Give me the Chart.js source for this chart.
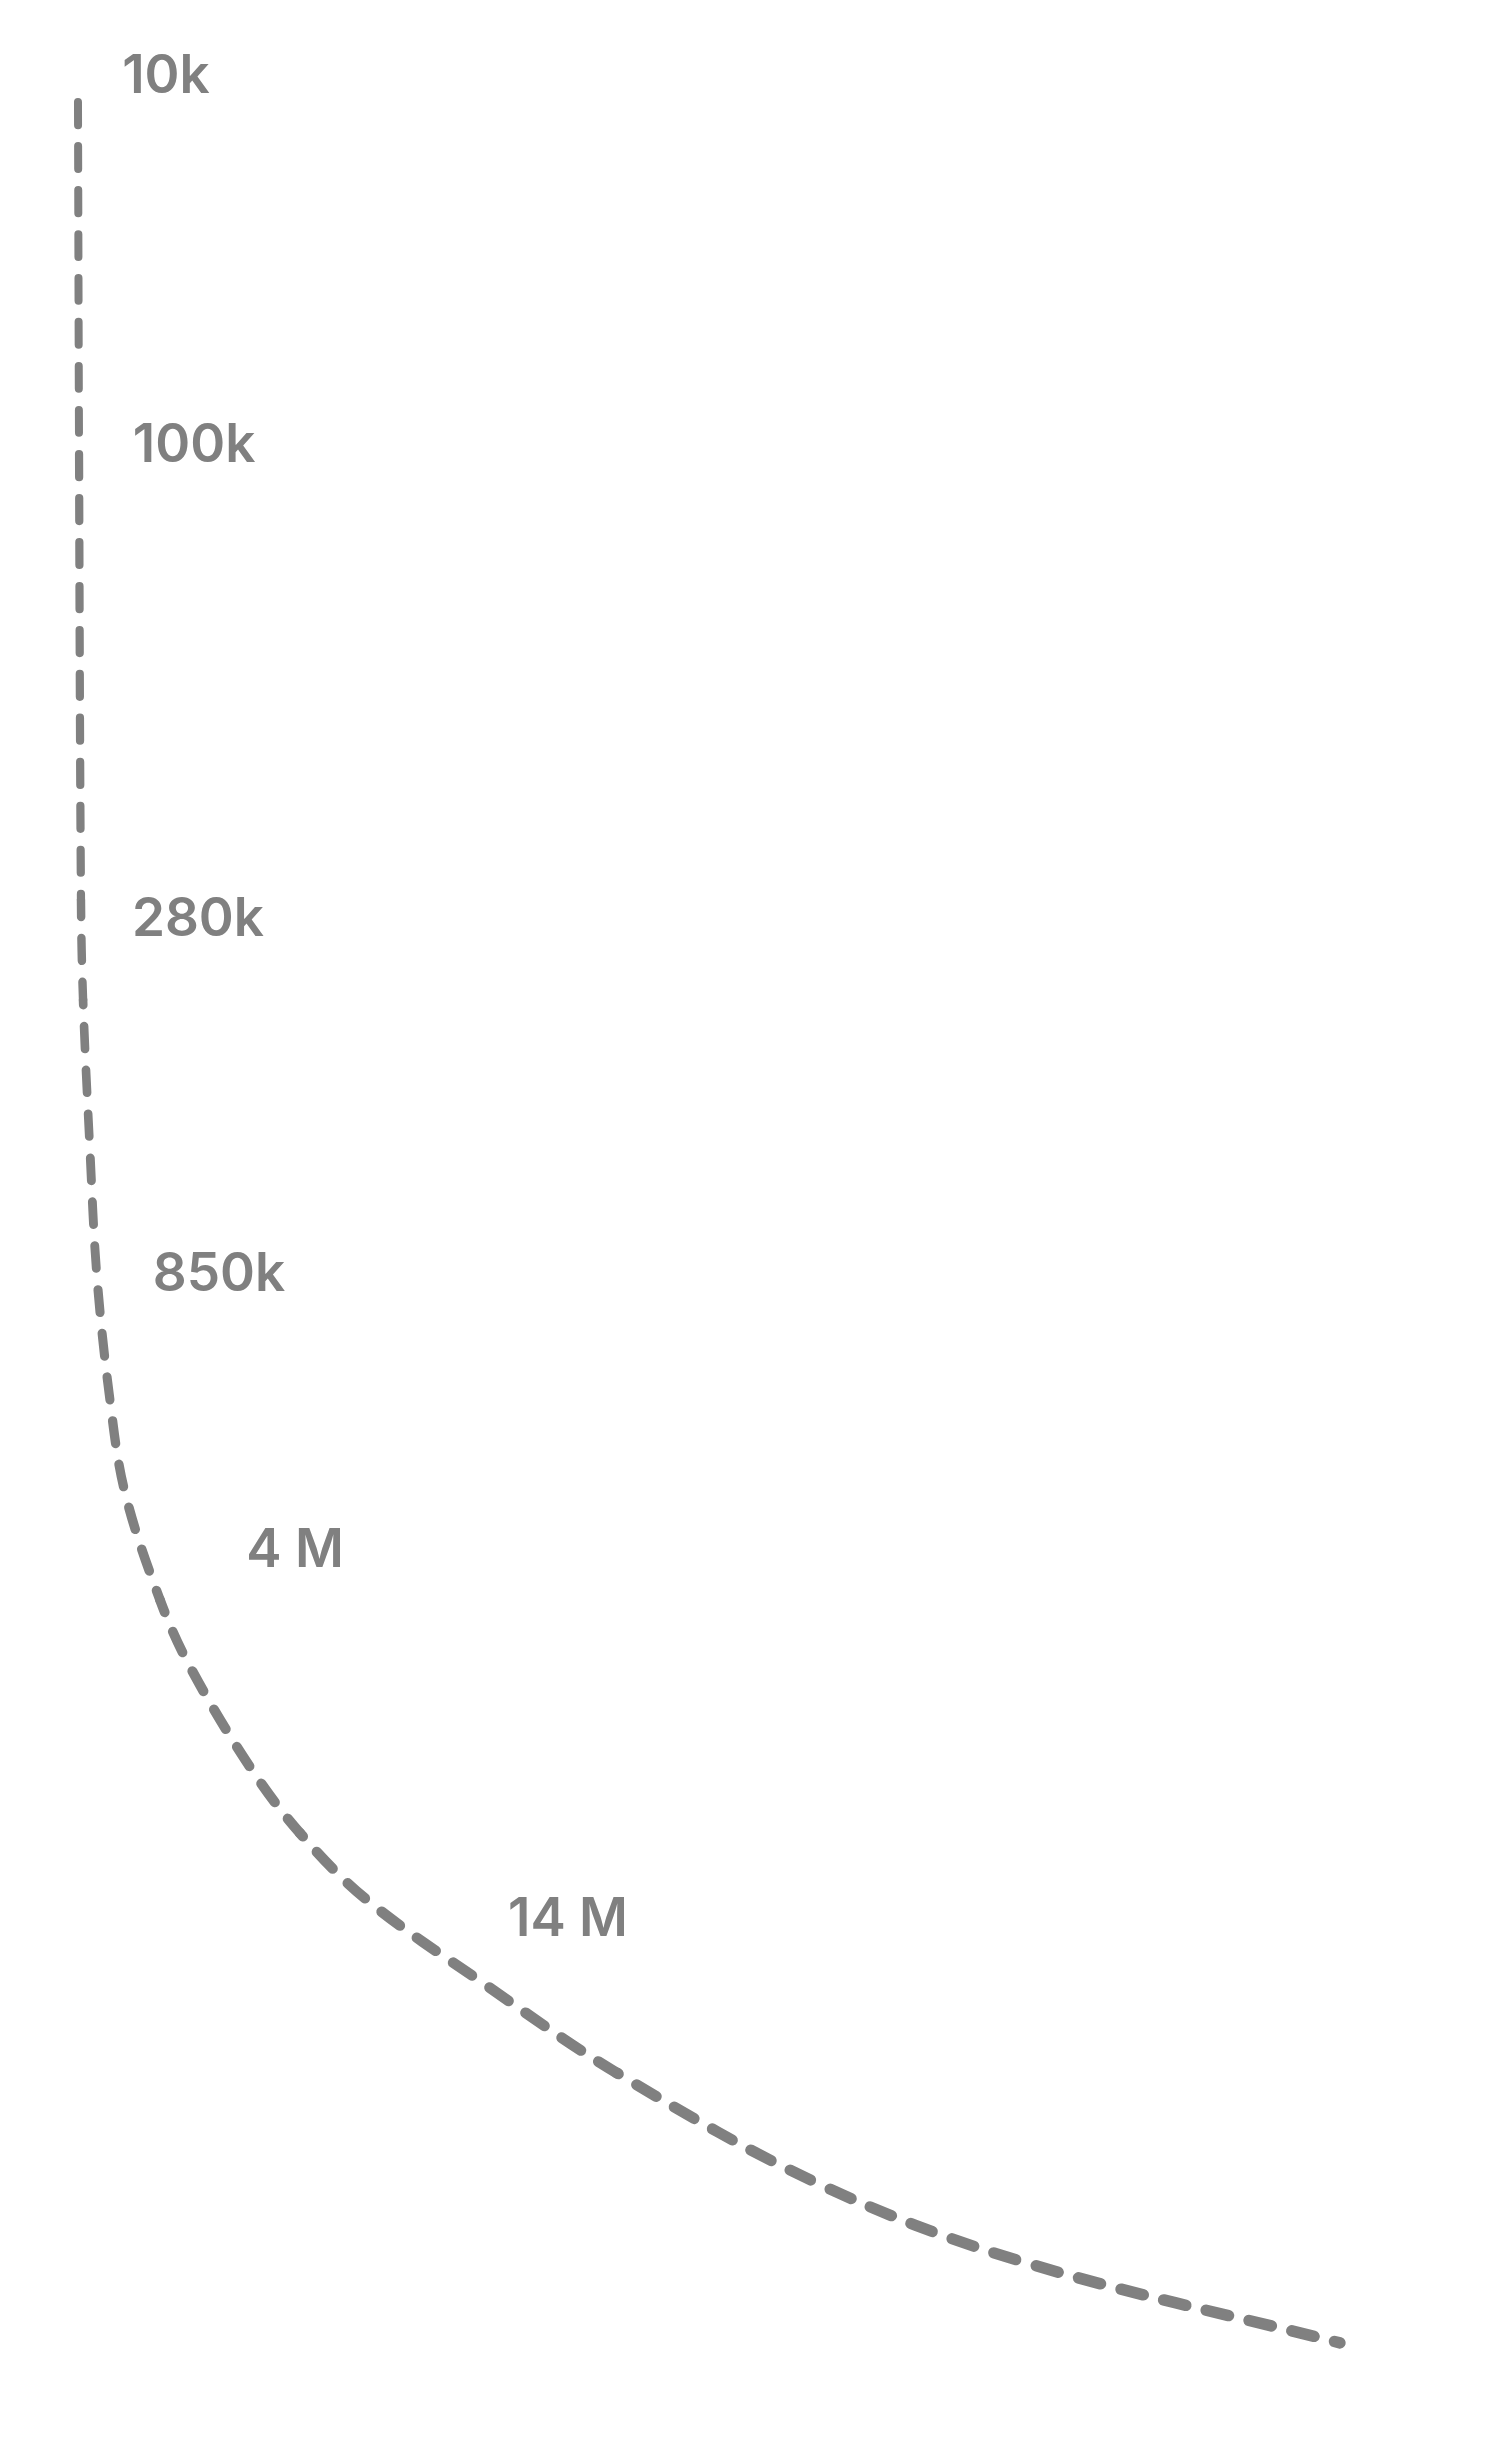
<!DOCTYPE html>
<html>
<head>
<meta charset="utf-8">
<script src="https://cdn.jsdelivr.net/npm/chart.js@4/dist/chart.umd.min.js"></script>
<style>
  html, body { margin: 0; padding: 0; background: #fff; }
  #wrap { width: 1494px; height: 2451px; }
</style>
</head>
<body>
<div id="wrap"><canvas id="curve" width="1494" height="2451"></canvas></div>
<script>
// curve, in % of width (x) and % of height from the top (y)
const curveX = [5.22, 5.29, 5.42, 5.56, 6.02, 6.49, 7.36, 8.37, 10.71, 12.72, 16.73, 20.08, 24.56, 32.33, 41.30, 54.69, 68.07, 89.69];
const curveY = [4.16, 18.36, 36.72, 40.80, 46.92, 52.10, 57.12, 60.91, 65.28, 68.01, 72.09, 74.79, 77.52, 80.91, 84.58, 89.07, 92.21, 95.59];

// value labels along the curve
const labelText = ['10k', '100k', '280k', '850k', '4 M', '14 M'];
const labelX = [11.11, 12.99, 13.25, 14.66, 19.75, 38.02];
const labelY = [3.02, 18.07, 37.41, 51.90, 63.16, 78.21];

const grey = '#808080';
const fontSize = 53;

// the stroke gets a little heavier towards the end of the curve
function segWidth(ctx) {
    return 8 + 3.5 * ctx.p0DataIndex / (curveX.length - 2);
}

// keep the dash pattern running across segments
function segOffset(ctx) {
    const pts = ctx.chart.getDatasetMeta(0).data;
    let len = 0;
    for (let i = 0; i < ctx.p0DataIndex; i++) {
        len += Math.hypot(pts[i + 1].x - pts[i].x, pts[i + 1].y - pts[i].y);
    }
    return len;
}

const labelPlugin = {
    id: 'valueLabels',
    afterDatasetsDraw(chart) {
        const ctx = chart.ctx;
        const meta = chart.getDatasetMeta(1);
        ctx.save();
        ctx.fillStyle = grey;
        ctx.font = `600 ${fontSize}px Inter, "Noto Sans", sans-serif`;
        ctx.textAlign = 'center';
        ctx.textBaseline = 'alphabetic';
        meta.data.forEach((pt, i) => {
            ctx.fillText(labelText[i], pt.x, pt.y + fontSize * 0.364);
        });
        ctx.restore();
    }
};

new Chart(document.getElementById('curve').getContext('2d'), {
    type: 'scatter',
    data: {
        datasets: [
            {
                data: curveX.map((x, i) => ({x: x, y: curveY[i]})),
                showLine: true,
                borderColor: grey,
                borderWidth: 10,
                borderDash: [23, 21],
                borderCapStyle: 'round',
                borderJoinStyle: 'round',
                tension: 0.35,
                pointRadius: 0,
                fill: false,
                clip: false,
                segment: {
                    borderWidth: segWidth,
                    borderDashOffset: segOffset
                }
            },
            {
                data: labelX.map((x, i) => ({x: x, y: labelY[i]})),
                showLine: false,
                pointRadius: 0
            }
        ]
    },
    options: {
        responsive: false,
        animation: false,
        layout: {padding: 0},
        plugins: {legend: {display: false}, tooltip: {enabled: false}},
        scales: {
            x: {type: 'linear', min: 0, max: 100, display: false},
            y: {type: 'linear', min: 0, max: 100, reverse: true, display: false}
        }
    },
    plugins: [labelPlugin]
});
</script>
</body>
</html>
